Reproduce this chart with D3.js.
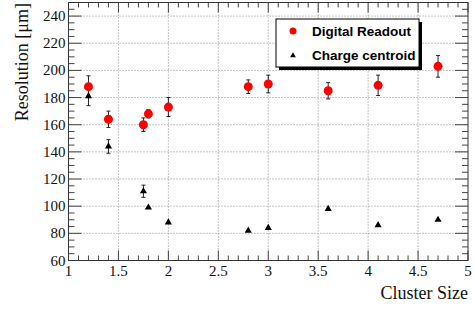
<!DOCTYPE html>
<html>
<head>
<meta charset="utf-8">
<script src="https://cdn.jsdelivr.net/npm/d3@7"></script>
<style>
  body { margin: 0; background: #fff; }
  svg { display: block; }
</style>
</head>
<body>
<div id="chart"></div>
<script>
// cluster size vs resolution
const digitalX = [1.2, 1.4, 1.75, 1.8, 2.0, 2.8, 3.0, 3.6, 4.1, 4.7];
const digitalY = [188, 164, 160, 168, 173, 188, 190, 185, 189, 203];
const digitalErr = [8, 6, 5, 3, 7, 5, 6.5, 6, 7.5, 8];

const chargeX = [1.2, 1.4, 1.75, 1.8, 2.0, 2.8, 3.0, 3.6, 4.1, 4.7];
const chargeY = [181, 144, 111, 99, 88, 82, 84, 98, 86, 90];
const chargeErr = [7, 5, 4.5, 0, 0, 0, 0, 0, 0, 0];

const xTicks = [1, 1.5, 2, 2.5, 3, 3.5, 4, 4.5, 5];
const yTicks = [60, 80, 100, 120, 140, 160, 180, 200, 220, 240];
const legendLabels = ["Digital Readout", "Charge centroid"];

const width = 475, height = 310;
const margin = { left: 68.5, right: 7, top: 2.5, bottom: 49.5 };
const plotW = width - margin.left - margin.right;
const plotH = height - margin.top - margin.bottom;

const svg = d3.select("#chart").append("svg")
  .attr("width", width)
  .attr("height", height);

const g = svg.append("g")
  .attr("transform", `translate(${margin.left},${margin.top})`);

const x = d3.scaleLinear().domain([1, 5]).range([0, plotW]);
const y = d3.scaleLinear().domain([60, 250]).range([plotH, 0]);

const serif = "'Liberation Serif', 'DejaVu Serif', serif";
const sans = "'Liberation Sans', Arial, sans-serif";

// grid
g.selectAll(".gx").data(xTicks.slice(1, -1)).join("line")
  .attr("x1", d => x(d)).attr("x2", d => x(d))
  .attr("y1", 0).attr("y2", plotH)
  .attr("stroke", "#888").attr("stroke-width", 1)
  .attr("stroke-dasharray", "1,2");
g.selectAll(".gy").data(yTicks.slice(1)).join("line")
  .attr("x1", 0).attr("x2", plotW)
  .attr("y1", d => y(d)).attr("y2", d => y(d))
  .attr("stroke", "#888").attr("stroke-width", 1)
  .attr("stroke-dasharray", "1,2");

// ticks, inside the frame on all four sides
const xMinor = d3.range(10, 51).map(d => d / 10);
const yMinor = d3.range(60, 251, 5);
const tickCol = "#444";

xMinor.forEach(v => {
  const major = Math.abs(v * 2 - Math.round(v * 2)) < 1e-6;
  const len = major ? 10 : 5;
  g.append("line").attr("x1", x(v)).attr("x2", x(v))
    .attr("y1", plotH).attr("y2", plotH - len).attr("stroke", tickCol);
  g.append("line").attr("x1", x(v)).attr("x2", x(v))
    .attr("y1", 0).attr("y2", len).attr("stroke", tickCol);
});
yMinor.forEach(v => {
  const major = v % 20 === 0;
  const len = major ? 13 : 6;
  g.append("line").attr("x1", 0).attr("x2", len)
    .attr("y1", y(v)).attr("y2", y(v)).attr("stroke", tickCol);
  g.append("line").attr("x1", plotW).attr("x2", plotW - len)
    .attr("y1", y(v)).attr("y2", y(v)).attr("stroke", tickCol);
});

// frame
g.append("rect")
  .attr("width", plotW).attr("height", plotH)
  .attr("fill", "none").attr("stroke", "#333").attr("stroke-width", 1);

// tick labels
g.selectAll(".xl").data(xTicks).join("text")
  .attr("x", d => x(d)).attr("y", plotH + 15)
  .attr("text-anchor", "middle")
  .attr("font-family", serif).attr("font-size", 15).attr("fill", "#111")
  .text(d => d);
g.selectAll(".yl").data(yTicks).join("text")
  .attr("x", -3).attr("y", d => y(d) + 5)
  .attr("text-anchor", "end")
  .attr("font-family", serif).attr("font-size", 15).attr("fill", "#111")
  .text(d => d);

// axis titles
g.append("text")
  .attr("x", plotW).attr("y", plotH + 38)
  .attr("text-anchor", "end")
  .attr("font-family", serif).attr("font-size", 18).attr("fill", "#111")
  .text("Cluster Size");
svg.append("text")
  .attr("transform", `translate(28, 3) rotate(-90)`)
  .attr("text-anchor", "end")
  .attr("font-family", serif).attr("font-size", 18).attr("fill", "#111")
  .text("Resolution [\u03bcm]");

// error bars
function errorBars(xs, ys, es) {
  xs.forEach((xv, i) => {
    if (!es[i]) return;
    const px = x(xv), y0 = y(ys[i] - es[i]), y1 = y(ys[i] + es[i]);
    g.append("line").attr("x1", px).attr("x2", px).attr("y1", y0).attr("y2", y1)
      .attr("stroke", "#222").attr("stroke-width", 1);
    [y0, y1].forEach(yy => g.append("line")
      .attr("x1", px - 2).attr("x2", px + 2).attr("y1", yy).attr("y2", yy)
      .attr("stroke", "#222").attr("stroke-width", 1));
  });
}
errorBars(digitalX, digitalY, digitalErr);
errorBars(chargeX, chargeY, chargeErr);

const tri = d3.symbol().type(d3.symbolTriangle).size(22);

g.selectAll(".dig").data(digitalX).join("circle")
  .attr("cx", d => x(d)).attr("cy", (d, i) => y(digitalY[i]))
  .attr("r", 4.5).attr("fill", "#ff0000");

g.selectAll(".chg").data(chargeX).join("path")
  .attr("d", tri)
  .attr("transform", (d, i) => `translate(${x(d)},${y(chargeY[i])})`)
  .attr("fill", "#000");

// legend
const lg = svg.append("g").attr("transform", "translate(276, 19)");
lg.append("rect").attr("x", 3).attr("y", 3).attr("width", 143).attr("height", 48).attr("fill", "#000");
lg.append("rect").attr("width", 143).attr("height", 48)
  .attr("fill", "#fff").attr("stroke", "#000").attr("stroke-width", 1);
lg.append("circle").attr("cx", 17).attr("cy", 12).attr("r", 3.5).attr("fill", "#ff0000");
lg.append("path").attr("d", d3.symbol().type(d3.symbolTriangle).size(14))
  .attr("transform", "translate(17,36.5)").attr("fill", "#000");
lg.selectAll(".lt").data(legendLabels).join("text")
  .attr("x", 36).attr("y", (d, i) => 17 + i * 24)
  .attr("font-family", sans).attr("font-weight", "bold").attr("font-size", 13.5)
  .attr("fill", "#000")
  .text(d => d);
</script>
</body>
</html>
